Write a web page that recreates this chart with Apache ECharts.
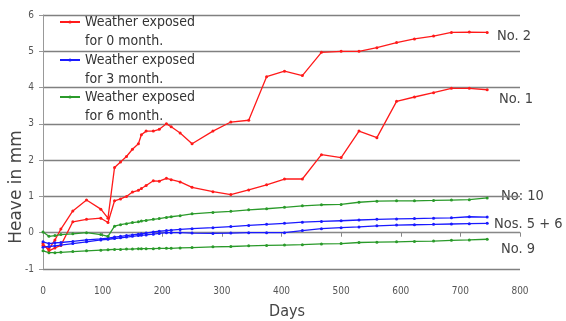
<!DOCTYPE html>
<html>
<head>
<meta charset="utf-8">
<script src="https://cdn.jsdelivr.net/npm/echarts@6/dist/echarts.min.js"></script>
<style>
  html, body { margin: 0; padding: 0; background: #fff; }
  #chart { width: 566px; height: 321px; }
</style>
</head>
<body>
<div id="chart"></div>
<script>
// days of each reading (shared by all gauges)
var days = [0, 10, 20, 30, 50, 73, 97, 109, 120, 130, 140, 150, 160, 165, 173, 185, 195, 207, 215, 230,
    250, 285, 315, 345, 375, 405, 435, 467, 500, 530, 560, 593, 623, 655, 685, 715, 745];

// heave in mm
var no2 = [-0.35, -0.45, -0.2, 0.1, 0.6, 0.9, 0.65, 0.4, 1.8, 1.95, 2.1, 2.3, 2.45, 2.7, 2.8, 2.8, 2.85, 3.0, 2.92, 2.75,
    2.45, 2.8, 3.05, 3.1, 4.3, 4.45, 4.33, 4.97, 5.0, 5.0, 5.1, 5.24, 5.34, 5.42, 5.52, 5.53, 5.52];
var no1 = [-0.3, -0.5, -0.42, -0.35, 0.3, 0.37, 0.4, 0.28, 0.88, 0.93, 1.0, 1.12, 1.17, 1.22, 1.3, 1.43, 1.42, 1.5, 1.46, 1.4,
    1.25, 1.13, 1.05, 1.18, 1.32, 1.48, 1.48, 2.15, 2.07, 2.8, 2.62, 3.62, 3.74, 3.86, 3.98, 3.98, 3.94];
var no5 = [-0.25, -0.3, -0.28, -0.27, -0.24, -0.2, -0.17, -0.15, -0.12, -0.1, -0.08, -0.06, -0.04, -0.03, -0.01, 0.02, 0.04, 0.06, 0.07, 0.09,
    0.11, 0.14, 0.17, 0.2, 0.23, 0.26, 0.29, 0.31, 0.33, 0.35, 0.37, 0.38, 0.39, 0.4, 0.41, 0.44, 0.43];
var no6 = [-0.4, -0.38, -0.36, -0.34, -0.3, -0.25, -0.2, -0.18, -0.16, -0.14, -0.12, -0.1, -0.08, -0.07, -0.06, -0.04, -0.02, 0.0, 0.0, 0.0,
    -0.01, -0.02, -0.01, 0.0, 0.0, 0.0, 0.06, 0.11, 0.14, 0.16, 0.19, 0.21, 0.22, 0.23, 0.24, 0.25, 0.26];
var no10 = [0.02, -0.1, -0.08, -0.05, -0.03, 0.0, -0.05, -0.1, 0.18, 0.22, 0.25, 0.28, 0.3, 0.32, 0.34, 0.37, 0.39, 0.42, 0.44, 0.47,
    0.52, 0.56, 0.59, 0.63, 0.66, 0.7, 0.74, 0.77, 0.78, 0.84, 0.87, 0.88, 0.88, 0.89, 0.9, 0.91, 0.96];
var no9 = [-0.5, -0.55, -0.55, -0.54, -0.52, -0.5, -0.48, -0.47, -0.46, -0.46, -0.45, -0.45, -0.44, -0.44, -0.44, -0.44, -0.43, -0.43, -0.43, -0.42,
    -0.41, -0.39, -0.38, -0.36, -0.35, -0.34, -0.33, -0.31, -0.3, -0.27, -0.26, -0.25, -0.24, -0.23, -0.21, -0.2, -0.18];

var legendNames = ['Weather exposed\nfor 0 month.', 'Weather exposed\nfor 3 month.', 'Weather exposed\nfor 6 month.'];
var gaugeLabels = ['No. 2', 'No. 1', 'No: 10', 'Nos. 5 + 6', 'No. 9'];

var RED = '#ff1a1a', BLUE = '#1a1aff', GREEN = '#2a9a2a';
var narrow = '"DejaVu Sans Condensed", "DejaVu Sans", sans-serif';

function pts(vals) {
    return days.map(function (d, i) { return [d, vals[i]]; });
}

function gauge(name, vals, color) {
    return {
        name: name,
        type: 'line',
        data: pts(vals),
        color: color,
        symbol: 'circle',
        symbolSize: 3,
        lineStyle: { width: 1.3 },
        animation: false
    };
}

function oneLegend(name, top) {
    return {
        data: [name],
        orient: 'vertical',
        left: 59,
        top: top,
        padding: 0,
        itemWidth: 20,
        itemHeight: 4,
        selectedMode: false,
        // blank first line so the icon sits level with "Weather exposed"
        formatter: function (n) { return '\u00a0\n' + n; },
        textStyle: {
            fontFamily: narrow,
            fontSize: 14,
            color: '#333',
            lineHeight: 19
        }
    };
}

var chart = echarts.init(document.getElementById('chart'));

var option = {
    backgroundColor: '#fff',
    grid: { left: 43, right: 46, top: 15, bottom: 52 },
    legend: [
        oneLegend(legendNames[0], -6.5),
        oneLegend(legendNames[1], 31.5),
        oneLegend(legendNames[2], 68.5)
    ],
    xAxis: [
        {
            type: 'value',
            min: 0, max: 800, interval: 100,
            axisLine: { show: false, onZero: false },
            axisTick: { show: false },
            splitLine: { show: false },
            axisLabel: { margin: 17, fontFamily: narrow, fontSize: 10, color: '#555' }
        },
        {
            // the zero line with its ticks
            type: 'value',
            position: 'bottom',
            min: 0, max: 800, interval: 100,
            axisLine: { show: true, onZero: true, lineStyle: { color: '#888', width: 1 } },
            axisTick: { show: true, length: 4, lineStyle: { color: '#888' } },
            axisLabel: { show: false },
            splitLine: { show: false }
        }
    ],
    yAxis: {
        type: 'value',
        min: -1, max: 6, interval: 1,
        axisLine: { show: true, lineStyle: { color: '#999', width: 1 } },
        axisTick: { show: true, length: 4, lineStyle: { color: '#999' } },
        axisLabel: { margin: 9, fontFamily: narrow, fontSize: 10, color: '#555' },
        splitLine: { show: true, lineStyle: { color: '#808080', width: 1.3 } }
    },
    series: [
        gauge(legendNames[0], no2, RED),
        gauge(legendNames[0], no1, RED),
        gauge(legendNames[1], no5, BLUE),
        gauge(legendNames[1], no6, BLUE),
        gauge(legendNames[2], no10, GREEN),
        gauge(legendNames[2], no9, GREEN)
    ],
    graphic: [
        { type: 'text', left: 497, top: 29, style: { text: gaugeLabels[0], font: '14.5px ' + narrow, fill: '#444' } },
        { type: 'text', left: 499, top: 92, style: { text: gaugeLabels[1], font: '14.5px ' + narrow, fill: '#444' } },
        { type: 'text', left: 501, top: 189, style: { text: gaugeLabels[2], font: '14.5px ' + narrow, fill: '#444' } },
        { type: 'text', left: 494, top: 217, style: { text: gaugeLabels[3], font: '14.5px ' + narrow, fill: '#444' } },
        { type: 'text', left: 501, top: 242, style: { text: gaugeLabels[4], font: '14.5px ' + narrow, fill: '#444' } },
        {
            type: 'text', x: 17, y: 187, rotation: Math.PI / 2,
            style: { text: 'Heave in mm', font: '17px "DejaVu Sans", sans-serif', fill: '#444', align: 'center', verticalAlign: 'middle' }
        },
        {
            type: 'text', x: 287, y: 312,
            style: { text: 'Days', font: '16px ' + narrow, fill: '#444', align: 'center', verticalAlign: 'middle' }
        }
    ]
};

chart.setOption(option);
</script>
</body>
</html>
